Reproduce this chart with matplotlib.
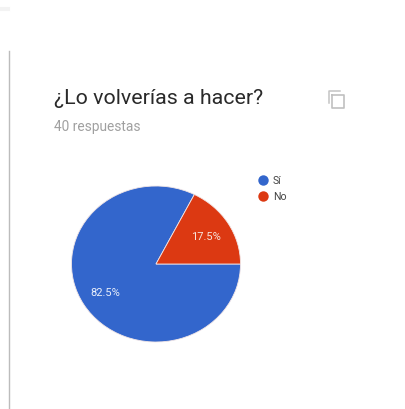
import matplotlib
matplotlib.use('Agg')
import matplotlib.pyplot as plt

labels = ['Sí', 'No']
values = [82.5, 17.5]
pct_text = ['82.5%', '17.5%']
colors = ['#3366cc', '#dc3912']
title = '¿Lo volverías a hacer?'
subtitle = '40 respuestas'

W, H = 406.0, 410.0
plt.rcParams['font.family'] = ['Roboto', 'DejaVu Sans']

fig = plt.figure(figsize=(W / 100, H / 100), dpi=100, facecolor='#ffffff')

# overlay in pixel coordinates, for the card decorations and the texts
bg = fig.add_axes([0, 0, 1, 1])
bg.set_xlim(0, W)
bg.set_ylim(H, 0)
bg.axis('off')

bg.plot([9.5, 9.5], [52, 410], color='#bcbcbc', lw=1.0)
bg.plot([0, 8], [10, 10], color='#f3f3f3', lw=3)

bg.text(54, 99, title, fontsize=15.4, color='#2a2a2a', va='center', ha='left')
bg.text(54, 127, subtitle, fontsize=9.9, color='#a0a0a0', va='center', ha='left')

# copy icon
bg.plot([329, 329, 340], [104, 92, 92], color='#c4c4c4', lw=1.1)
bg.plot([332, 344, 344, 332, 332], [96, 96, 109, 109, 96], color='#c0c0c0', lw=1.2)

# pie is slightly squashed in the picture, so the axes box sets its shape
left, right, top, bottom = 71.5, 240.5, 187.0, 343.0
ax = fig.add_axes([left / W, 1 - bottom / H, (right - left) / W, (bottom - top) / H])
ax.patch.set_alpha(0)
ax.pie(values, colors=colors, startangle=63, radius=1.0,
       wedgeprops={'edgecolor': '#f2e6e6', 'linewidth': 0.6})
ax.set_aspect('auto')
ax.set_xlim(-1, 1)
ax.set_ylim(-1, 1)

bg.set_zorder(2)
bg.patch.set_alpha(0)
bg.text(105, 293.5, pct_text[0], fontsize=8.0, color='#e8eefa', ha='center', va='center')
bg.text(206, 237, pct_text[1], fontsize=8.0, color='#f7e4dc', ha='center', va='center')

# legend
legend_y = [181, 197]
for name, col, y in zip(labels, colors, legend_y):
    bg.plot([263.5], [y], 'o', color=col, ms=7.5, mew=0)
    bg.text(273, y, name, fontsize=7.6, color='#444444', va='center', ha='left')

fig.savefig('out.png', dpi=100)
